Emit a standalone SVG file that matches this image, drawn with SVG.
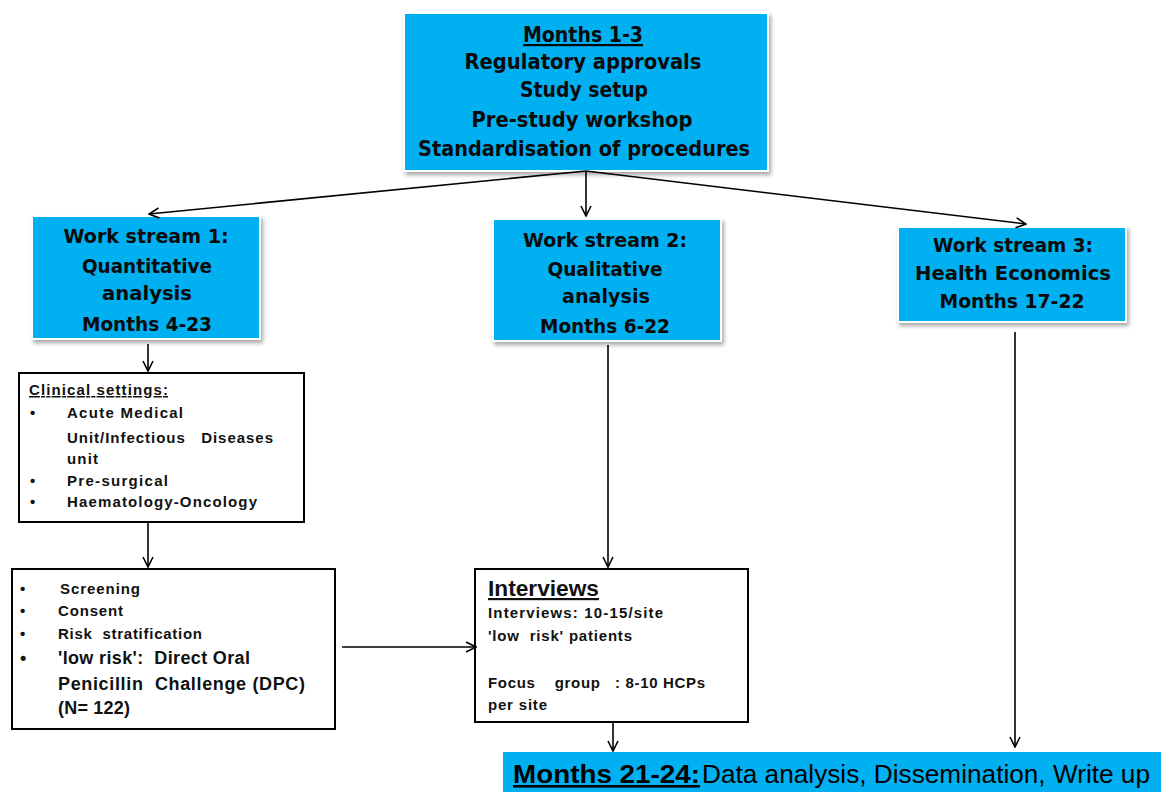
<svg xmlns="http://www.w3.org/2000/svg" width="1161" height="792" viewBox="0 0 1161 792">
<defs>
<marker id="ah" viewBox="0 0 12 12" refX="11" refY="6" markerWidth="12" markerHeight="12" markerUnits="userSpaceOnUse" orient="auto">
<path d="M1,1 L11,6 L1,11" fill="none" stroke="#000" stroke-width="1.6"/>
</marker>
<filter id="sh" x="-10%" y="-10%" width="120%" height="130%">
<feGaussianBlur in="SourceAlpha" stdDeviation="2"/>
<feOffset dx="2" dy="3"/>
<feComponentTransfer><feFuncA type="linear" slope="0.35"/></feComponentTransfer>
<feMerge><feMergeNode/><feMergeNode in="SourceGraphic"/></feMerge>
</filter>
</defs>
<style>
.blue{fill:#00B0F0;stroke:#fff;stroke-width:2;filter:url(#sh)}
.wbox{fill:#fff;stroke:#000;stroke-width:2}
.hd{font-family:"DejaVu Sans",Verdana,sans-serif;font-weight:bold;fill:#0a0a0a;text-anchor:middle}
.t21{font-size:22px}
.t19{font-size:20px}
.sm{font-family:"Liberation Sans",Arial,sans-serif;font-weight:bold;fill:#111;font-size:15px;white-space:pre}
.md{font-family:"Liberation Sans",Arial,sans-serif;font-weight:bold;fill:#111;font-size:18px;white-space:pre}
.ttl{font-family:"Liberation Sans",Arial,sans-serif;font-weight:bold;fill:#111;font-size:22px}
.con{stroke:#000;stroke-width:1.6;fill:none;marker-end:url(#ah)}
</style>
<rect width="1161" height="792" fill="#fff"/>

<g id="top">
<rect class="blue" x="404" y="13" width="364" height="158"/>
<text class="hd t21" x="583" y="42" text-decoration="underline" textLength="120" lengthAdjust="spacingAndGlyphs">Months 1-3</text>
<text class="hd t21" x="583" y="69" textLength="237" lengthAdjust="spacingAndGlyphs">Regulatory approvals</text>
<text class="hd t21" x="584" y="97" textLength="128" lengthAdjust="spacingAndGlyphs">Study setup</text>
<text class="hd t21" x="582" y="127" textLength="221" lengthAdjust="spacingAndGlyphs">Pre-study workshop</text>
<text class="hd t21" x="584" y="156" textLength="332" lengthAdjust="spacingAndGlyphs">Standardisation of procedures</text>
</g>

<g id="ws1">
<rect class="blue" x="32" y="216" width="228" height="123"/>
<text class="hd t19" x="146" y="243" textLength="165" lengthAdjust="spacingAndGlyphs">Work stream 1:</text>
<text class="hd t19" x="147" y="273" textLength="130" lengthAdjust="spacingAndGlyphs">Quantitative</text>
<text class="hd t19" x="147" y="300" textLength="90" lengthAdjust="spacingAndGlyphs">analysis</text>
<text class="hd t19" x="147" y="331" textLength="130" lengthAdjust="spacingAndGlyphs">Months 4-23</text>
</g>

<g id="ws2">
<rect class="blue" x="493" y="219" width="228" height="122"/>
<text class="hd t19" x="605" y="247" textLength="164" lengthAdjust="spacingAndGlyphs">Work stream 2:</text>
<text class="hd t19" x="605" y="276" textLength="115" lengthAdjust="spacingAndGlyphs">Qualitative</text>
<text class="hd t19" x="606" y="303" textLength="88" lengthAdjust="spacingAndGlyphs">analysis</text>
<text class="hd t19" x="605" y="333" textLength="130" lengthAdjust="spacingAndGlyphs">Months 6-22</text>
</g>

<g id="ws3">
<rect class="blue" x="898" y="227" width="228" height="95"/>
<text class="hd t19" x="1013" y="252" textLength="160" lengthAdjust="spacingAndGlyphs">Work stream 3:</text>
<text class="hd t19" x="1013" y="280" textLength="196" lengthAdjust="spacingAndGlyphs">Health Economics</text>
<text class="hd t19" x="1012" y="308" textLength="145" lengthAdjust="spacingAndGlyphs">Months 17-22</text>
</g>

<g id="clinical">
<rect class="wbox" x="19" y="373" width="285" height="149"/>
<text class="sm" x="29" y="395" text-decoration="underline" textLength="139" lengthAdjust="spacing">Clinical settings:</text>
<text class="sm" x="30" y="418">•</text><text class="sm" x="67" y="418" textLength="116" lengthAdjust="spacing">Acute Medical</text>
<text class="sm" x="67" y="443" textLength="206" lengthAdjust="spacing">Unit/Infectious   Diseases</text>
<text class="sm" x="67" y="464" textLength="31" lengthAdjust="spacing">unit</text>
<text class="sm" x="30" y="486">•</text><text class="sm" x="67" y="486" textLength="101" lengthAdjust="spacing">Pre-surgical</text>
<text class="sm" x="30" y="507">•</text><text class="sm" x="67" y="507" textLength="190" lengthAdjust="spacing">Haematology-Oncology</text>
</g>

<g id="screening">
<rect class="wbox" x="12" y="569" width="323" height="160"/>
<text class="sm" x="20" y="594">•</text><text class="sm" x="60" y="594" textLength="80" lengthAdjust="spacing">Screening</text>
<text class="sm" x="20" y="616">•</text><text class="sm" x="58" y="616" textLength="65" lengthAdjust="spacing">Consent</text>
<text class="sm" x="20" y="639">•</text><text class="sm" x="58" y="639" textLength="144" lengthAdjust="spacing">Risk  stratification</text>
<text class="md" x="20" y="664">•</text><text class="md" x="58" y="664" textLength="192" lengthAdjust="spacing">'low risk':  Direct Oral</text>
<text class="md" x="58" y="690" textLength="247" lengthAdjust="spacing">Penicillin  Challenge (DPC)</text>
<text class="md" x="58" y="714" textLength="72" lengthAdjust="spacing">(N= 122)</text>
</g>

<g id="interviews">
<rect class="wbox" x="475" y="569" width="273" height="153"/>
<text class="ttl" x="488" y="596" text-decoration="underline" textLength="111" lengthAdjust="spacingAndGlyphs">Interviews</text>
<text class="sm" x="488" y="618" textLength="175" lengthAdjust="spacing">Interviews: 10-15/site</text>
<text class="sm" x="488" y="641" textLength="144" lengthAdjust="spacing">'low  risk' patients</text>
<text class="sm" x="488" y="688" textLength="217" lengthAdjust="spacing">Focus    group   : 8-10 HCPs</text>
<text class="sm" x="488" y="710" textLength="59" lengthAdjust="spacing">per site</text>
</g>

<g id="final">
<rect x="503" y="752" width="658" height="40" fill="#00B0F0"/>
<text font-family="'Liberation Sans',Arial,sans-serif" font-size="26" x="513" y="783" fill="#000"><tspan font-weight="bold" text-decoration="underline" textLength="187" lengthAdjust="spacingAndGlyphs">Months 21-24:</tspan><tspan dx="2" textLength="448" lengthAdjust="spacingAndGlyphs">Data analysis, Dissemination,  Write up</tspan></text>
</g>

<g id="connectors">
<line class="con" x1="586" y1="171" x2="149" y2="214"/>
<line class="con" x1="586" y1="171" x2="586" y2="216"/>
<line class="con" x1="586" y1="171" x2="1026" y2="224"/>
<line class="con" x1="148" y1="344" x2="148" y2="371"/>
<line class="con" x1="148" y1="522" x2="148" y2="567"/>
<line class="con" x1="342" y1="647" x2="476" y2="647"/>
<line class="con" x1="608" y1="345" x2="608" y2="567"/>
<line class="con" x1="613" y1="722" x2="613" y2="751"/>
<line class="con" x1="1015" y1="332" x2="1015" y2="747"/>
</g>
</svg>
